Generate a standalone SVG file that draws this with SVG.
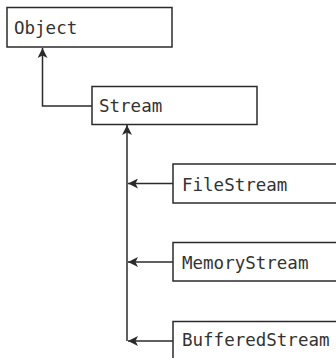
<svg xmlns="http://www.w3.org/2000/svg" width="336" height="358" viewBox="0 0 336 358">
<defs>
<marker id="ah" viewBox="0 0 10 10" refX="10" refY="5" markerWidth="10" markerHeight="10" markerUnits="userSpaceOnUse" orient="auto">
<path d="M0,0 L10,5 L0,10 L2.5,5 Z" fill="#2b2b2b"/>
</marker>
<style>
.box{fill:#fff;stroke:#2b2b2b;stroke-width:1.5}
.lbl{font-family:"DejaVu Sans Mono","Liberation Mono",monospace;font-size:17.5px;fill:#333}
.edge{fill:none;stroke:#2b2b2b;stroke-width:1.5}
</style>
</defs>
<rect width="336" height="358" fill="#fff"/>
<g id="connectors">
<path class="edge" d="M92,106 H42.5 V48" marker-end="url(#ah)"/>
<path class="edge" d="M127,341 V125" marker-end="url(#ah)"/>
<path class="edge" d="M173,183.5 H128" marker-end="url(#ah)"/>
<path class="edge" d="M173,262 H128" marker-end="url(#ah)"/>
<path class="edge" d="M173,341 H128" marker-end="url(#ah)"/>
</g>
<g id="object">
<rect class="box" x="7" y="7.5" width="165" height="39.5"/>
<text class="lbl" x="14" y="34">Object</text>
</g>
<g id="stream">
<rect class="box" x="92" y="86.5" width="165" height="38"/>
<text class="lbl" x="99" y="112">Stream</text>
</g>
<g id="filestream">
<rect class="box" x="173" y="164" width="170" height="39"/>
<text class="lbl" x="182" y="191">FileStream</text>
</g>
<g id="memorystream">
<rect class="box" x="173" y="242.5" width="170" height="38.5"/>
<text class="lbl" x="182" y="269">MemoryStream</text>
</g>
<g id="bufferedstream">
<rect class="box" x="173" y="321.5" width="170" height="45"/>
<text class="lbl" x="182" y="346">BufferedStream</text>
</g>
</svg>
